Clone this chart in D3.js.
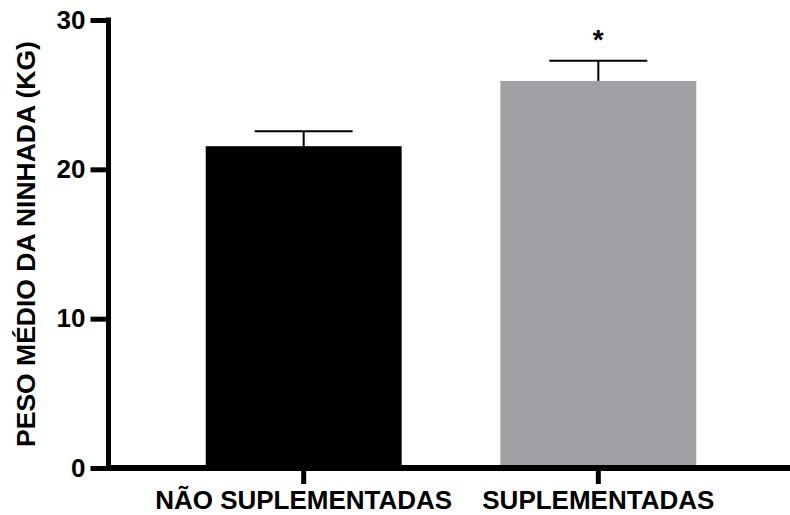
<!DOCTYPE html>
<html>
<head>
<meta charset="utf-8">
<script src="https://cdn.jsdelivr.net/npm/d3@7"></script>
<style>
  body { margin: 0; background: #fff; }
  text { font-family: Arial, "Liberation Sans", sans-serif; font-weight: bold; }
</style>
</head>
<body>
<div id="chart"></div>
<script>
// Chart data
const categories = ["NÃO SUPLEMENTADAS", "SUPLEMENTADAS"];
const means = [21.55, 25.92];
const errors = [1.0, 1.35];
const significance = ["", "*"];
const yTicks = [0, 10, 20, 30];
const barColors = ["#000000", "#a1a1a5"];

const width = 790,
      height = 515;

const svg = d3.select("#chart").append("svg")
    .attr("width", width)
    .attr("height", height);

const y = d3.scaleLinear().domain([0, 30]).range([468, 20]);
const x = d3.scaleBand().domain(categories).range([107, 795]).padding(0.335);

// Bars
svg.append("g").selectAll("rect")
    .data(categories)
    .join("rect")
    .attr("x", d => x(d))
    .attr("y", (d, i) => y(means[i]))
    .attr("width", x.bandwidth())
    .attr("height", (d, i) => y(0) - y(means[i]))
    .attr("fill", (d, i) => barColors[i]);

// Error bars (upper only)
const err = svg.append("g").attr("stroke", "#000").attr("stroke-width", 2);
categories.forEach((d, i) => {
    const cx = x(d) + x.bandwidth() / 2;
    const top = y(means[i] + errors[i]);
    err.append("line")
        .attr("x1", cx).attr("x2", cx)
        .attr("y1", y(means[i])).attr("y2", top);
    err.append("line")
        .attr("x1", cx - x.bandwidth() / 4).attr("x2", cx + x.bandwidth() / 4)
        .attr("y1", top).attr("y2", top);
});

// Significance marks
svg.append("g").selectAll("text")
    .data(categories)
    .join("text")
    .attr("x", d => x(d) + x.bandwidth() / 2)
    .attr("y", (d, i) => y(means[i] + errors[i]) - 12)
    .attr("text-anchor", "middle")
    .style("font-size", "28px")
    .text((d, i) => significance[i]);

// Y axis
const yAxis = svg.append("g")
    .attr("transform", "translate(108.5,0)")
    .call(d3.axisLeft(y).tickValues(yTicks).tickSize(18).tickSizeOuter(0).tickPadding(5));
yAxis.select(".domain").attr("stroke-width", 5).attr("d", `M0,${y(30) - 2.5}V${y(0)}`);
yAxis.selectAll(".tick line").attr("stroke-width", 5);
yAxis.selectAll(".tick text").style("font-size", "26px").attr("fill", "#000");

// X axis
const xAxis = svg.append("g")
    .attr("transform", "translate(0,468)")
    .call(d3.axisBottom(x).tickSize(16).tickSizeOuter(0));
xAxis.select(".domain").attr("stroke-width", 6).attr("d", `M106,0H${width}`);
xAxis.selectAll(".tick line").attr("stroke-width", 5);
xAxis.selectAll(".tick text")
    .attr("y", 41)
    .attr("dy", null)
    .style("font-size", "26px")
    .attr("fill", "#000");

// Y axis title
svg.append("text")
    .attr("transform", `translate(35,${(y(0) + y(30)) / 2}) rotate(-90)`)
    .attr("text-anchor", "middle")
    .style("font-size", "26.5px")
    .text("PESO MÉDIO DA NINHADA (KG)");
</script>
</body>
</html>
